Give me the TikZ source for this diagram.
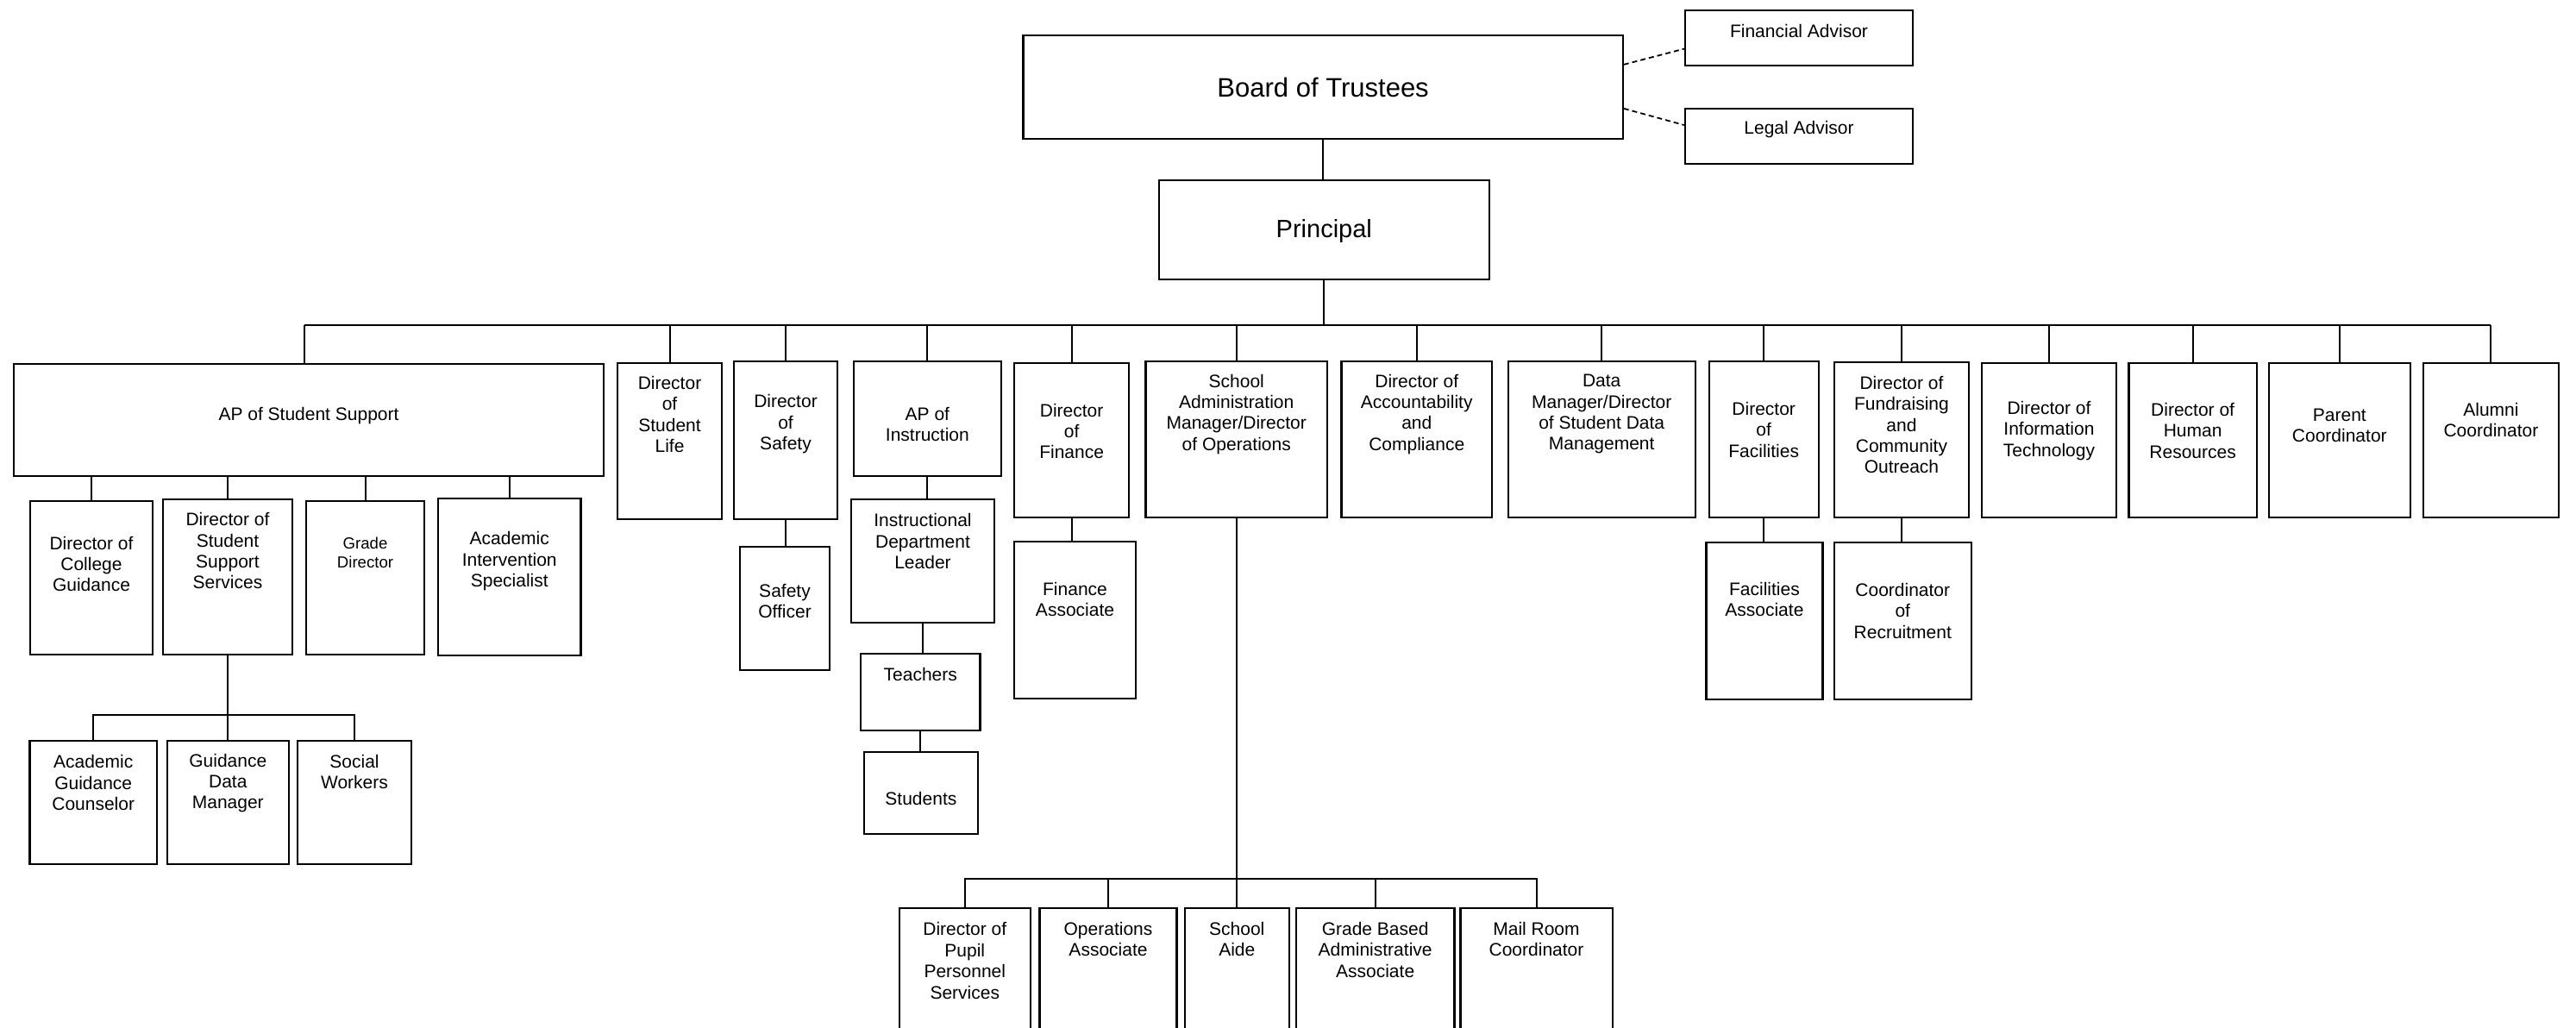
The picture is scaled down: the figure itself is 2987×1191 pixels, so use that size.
\documentclass[tikz,border=0pt]{standalone}
\usepackage{fontspec}
\setmainfont{Liberation Sans}
\usetikzlibrary{fit}
\tikzset{
	box/.style={draw, line width=1.1pt, inner sep=0pt},
	conn/.style={line width=1pt},
	advline/.style={line width=0.9pt, dash pattern=on 3pt off 2pt},
	txt/.style={align=center, inner sep=0pt, font=\fontsize{10.5}{12.2}\selectfont},
	smalltxt/.style={txt, font=\fontsize{9.3}{10.8}\selectfont},
	boardtxt/.style={txt, font=\fontsize{15.5}{18}\selectfont},
	headtxt/.style={txt, font=\fontsize{14.5}{17}\selectfont},
}
\def\orgbox[#1](#2)(#3,#4)(#5,#6)(#7)#8{%
	\node[box, fit={(#3,#4) (#5,#6)}] (#2) {};
	\node[#1] (#2-txt) at ({(#3+#5)/2},#7) {#8};}

\begin{document}
\begin{tikzpicture}[x=0.5pt, y=-0.5pt]
			%%%%% START %%%%%
			\useasboundingbox (0,0) rectangle (2987,1191);
			\fill[white] (0,0) rectangle (2987,1191);
			\clip (0,0) rectangle (2987,1191);
			
			% top
			\orgbox[boardtxt](board)(1186.5,40.7)(1881.7,161)(101.7){Board of Trustees}
			\orgbox[headtxt](principal)(1343.6,209)(1727,324)(268.3){Principal}
			\orgbox[txt](finadv)(1954,12)(2218,76)(36){Financial Advisor}
			\orgbox[txt](legadv)(1954,126)(2218,190)(150){Legal Advisor}
			
			\draw[advline] ([yshift=13pt]board.east) -- ([yshift=-6.3pt]finadv.west);
			\draw[advline] ([yshift=-12.5pt]board.east) -- ([yshift=6.5pt]legadv.west);
			\draw[conn] (board.south) -- (board.south |- principal.north);
			
			% first row
			\orgbox[txt](apss)(16,421.7)(700,551.7)(481.7){AP of Student Support}
			\orgbox[txt](stlife)(716,420.7)(837,601.7)(480.3){Director\\of\\Student\\Life}
			\orgbox[txt](safety)(851,418.7)(971,601.7)(491.7){Director\\of\\Safety}
			\orgbox[txt](apinst)(990,419.3)(1160.7,552.3)(491.7){AP of\\Instruction}
			\orgbox[txt](dirfin)(1176,421.3)(1309.3,600.3)(500){Director\\of\\Finance}
			\orgbox[txt](sam)(1328.5,419.3)(1539,600.3)(480.2){School\\Administration\\Manager/Director\\of Operations}
			\orgbox[txt](account)(1555.5,419.3)(1730,600.3)(480.2){Director of\\Accountability\\and\\Compliance}
			\orgbox[txt](datamgr)(1748.8,419.3)(1965.6,600.3)(480.2){Data\\Manager/Director\\of Student Data\\Management}
			\orgbox[txt](dirfac)(1981.7,419.3)(2108.7,600.3)(498.3){Director\\of\\Facilities}
			\orgbox[txt](dirfund)(2126.6,420)(2283.3,600.3)(492.5){Director of\\Fundraising\\and\\Community\\Outreach}
			\orgbox[txt](dirit)(2297.9,420.7)(2454,600.3)(499.3){Director of\\Information\\Technology}
			\orgbox[txt](dirhr)(2468.5,420.7)(2616.7,600.3)(499.3){Director of\\Human\\Resources}
			\orgbox[txt](parent)(2631,421.3)(2794.6,600.3)(493.5){Parent\\Coordinator}
			\orgbox[txt](alumni)(2809.8,420.7)(2967,600.3)(487.2){Alumni\\Coordinator}
			
			\coordinate (bus) at (1534,377);
			\coordinate (apsstop) at ([xshift=-2.6pt]apss.north);
			\draw[conn] (principal.south) -- (principal.south |- bus);
			\draw[conn] (apsstop |- bus) -- (alumni.north |- bus);
			\draw[conn] (apsstop) -- (apsstop |- bus);
			\draw[conn] (stlife.north) -- (stlife.north |- bus);
			\draw[conn] (safety.north) -- (safety.north |- bus);
			\draw[conn] (apinst.north) -- (apinst.north |- bus);
			\draw[conn] (dirfin.north) -- (dirfin.north |- bus);
			\draw[conn] (sam.north) -- (sam.north |- bus);
			\draw[conn] (account.north) -- (account.north |- bus);
			\draw[conn] (datamgr.north) -- (datamgr.north |- bus);
			\draw[conn] (dirfac.north) -- (dirfac.north |- bus);
			\draw[conn] (dirfund.north) -- (dirfund.north |- bus);
			\draw[conn] (dirit.north) -- (dirit.north |- bus);
			\draw[conn] (dirhr.north) -- (dirhr.north |- bus);
			\draw[conn] (parent.north) -- (parent.north |- bus);
			\draw[conn] (alumni.north) -- (alumni.north |- bus);
			
			% second row
			\orgbox[txt](college)(35,581)(177,758.7)(654){Director of\\College\\Guidance}
			\orgbox[txt](dsss)(189,579)(339,758.7)(638.8){Director of\\Student\\Support\\Services}
			\orgbox[smalltxt](grade)(355,580.7)(492,759)(640.8){Grade\\Director}
			\orgbox[txt](ais)(508,578)(673.5,760)(650.7){Academic\\Intervention\\Specialist}
			\orgbox[txt](safeoff)(858,634)(962,776.7)(696.7){Safety\\Officer}
			\orgbox[txt](idl)(987,579)(1153,721.7)(627.7){Instructional\\Department\\Leader}
			\orgbox[txt](finassoc)(1176,628)(1317,810)(694.7){Finance\\Associate}
			\orgbox[txt](facassoc)(1978.4,628.7)(2113.4,810.7)(695.2){Facilities\\Associate}
			\orgbox[txt](recruit)(2126.6,628.7)(2286,810.7)(708.1){Coordinator\\of\\Recruitment}
			
			\draw[conn] (college.north) -- (college.north |- apss.south);
			\draw[conn] (dsss.north) -- (dsss.north |- apss.south);
			\draw[conn] (grade.north) -- (grade.north |- apss.south);
			\draw[conn] (ais.north) -- (ais.north |- apss.south);
			\draw[conn] (safety.south) -- (safety.south |- safeoff.north);
			\draw[conn] (apinst.south) -- (apinst.south |- idl.north);
			\draw[conn] (dirfin.south) -- (dirfin.south |- finassoc.north);
			\draw[conn] (dirfac.south) -- (dirfac.south |- facassoc.north);
			\draw[conn] (dirfund.south) -- (dirfund.south |- recruit.north);
			
			% third row
			\orgbox[txt](agc)(34.4,859)(182,1001.7)(907.7){Academic\\Guidance\\Counselor}
			\orgbox[txt](gdm)(193.6,859)(335,1001.7)(908){Guidance\\Data\\Manager}
			\orgbox[txt](social)(345,859)(477,1001.7)(895){Social\\Workers}
			\orgbox[txt](teachers)(998,758.3)(1136.5,846.7)(782){Teachers}
			\orgbox[txt](students)(1001.8,871.7)(1134,967.3)(925.7){Students}
			
			\coordinate (sgbus) at (0,829);
			\draw[conn] (dsss.south) -- (dsss.south |- gdm.north);
			\draw[conn] (agc.north) -- (agc.north |- sgbus) -- (social.north |- sgbus) -- (social.north);
			\draw[conn] (idl.south) -- (idl.south |- teachers.north);
			\draw[conn] (teachers.south) -- (teachers.south |- students.north);
			
			% operations
			\orgbox[txt](pupil)(1043,1053)(1194.6,1240)(1113.9){Director of\\Pupil\\Personnel\\Services}
			\orgbox[txt](opsassoc)(1205.5,1053)(1364.5,1240)(1089.2){Operations\\Associate}
			\orgbox[txt](aide)(1373.7,1053)(1494.8,1240)(1089.2){School\\Aide}
			\orgbox[txt](gbaa)(1502.8,1053)(1686.5,1240)(1101.4){Grade Based\\Administrative\\Associate}
			\orgbox[txt](mail)(1693.4,1053)(1869.6,1240)(1089.2){Mail Room\\Coordinator}
			
			\coordinate (opsbus) at (0,1019);
			\draw[conn] (sam.south) -- (sam.south |- aide.north);
			\draw[conn] (pupil.north) -- (pupil.north |- opsbus) -- (mail.north |- opsbus) -- (mail.north);
			\draw[conn] (opsassoc.north) -- (opsassoc.north |- opsbus);
			\draw[conn] (gbaa.north) -- (gbaa.north |- opsbus);
			%%%%% END %%%%%
\end{tikzpicture}
\end{document}
